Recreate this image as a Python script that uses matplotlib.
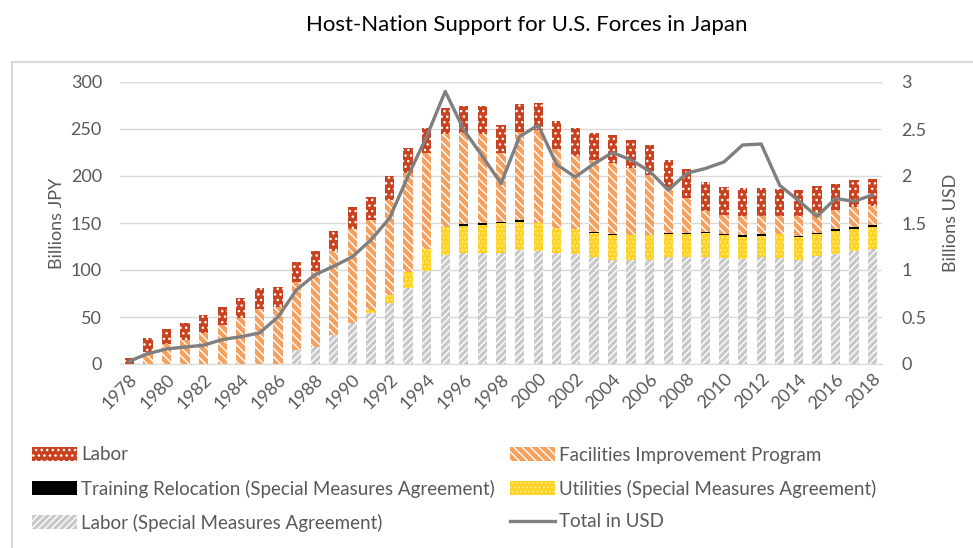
import numpy as np
import matplotlib as mpl
mpl.use("Agg")
import matplotlib.pyplot as plt
from matplotlib.patches import Patch, Rectangle
from matplotlib.lines import Line2D

plt.rcParams.update({
    "font.family": ["Lato", "DejaVu Sans"],
    "hatch.linewidth": 1.0,
})

years = list(range(1978, 2019))

# billions JPY, stacked bottom -> top
labor_sma = [0, 0, 0, 0, 0, 0, 0, 0, 0, 15, 18, 31, 44, 54, 64.5, 81, 99, 116,
             118, 118, 118.5, 121, 120, 118.5, 117.5, 114, 111, 111, 111, 113.5,
             114, 114, 112.5, 111.4, 113.5, 112.5, 110.6, 115, 117, 120.5, 122.7]
utilities = [0, 0, 0, 0, 0, 0, 0, 0, 0, 0, 0, 0, 0, 3, 9, 17, 23, 30,
             29, 30, 31, 30, 30, 26, 26, 25, 26, 26, 26, 24.5,
             24, 25, 24.5, 24, 23, 25.5, 24, 23, 25, 23.5, 23.3]
training = [0, 0, 0, 0, 0, 0, 0, 0, 0, 0, 0, 0, 0, 0, 0, 0, 0, 0,
            2, 2, 1.5, 2, 0.5, 0.5, 0.5, 1.5, 1, 0.5, 0.5, 1.5,
            1.5, 1, 1.5, 1.5, 1.5, 0.5, 1.5, 1.5, 1.5, 1.5, 1.5]
fip = [0, 13, 21, 26, 33, 41, 49, 59, 61, 72, 81, 89, 100, 96, 101, 105, 102, 99,
       97, 95, 74, 94, 98, 84, 77, 76, 76, 71, 64, 49,
       37, 23, 20, 20.5, 19, 19, 21, 22, 20, 21, 20.5]
labor = [6, 15, 16, 18, 19, 20, 21, 22, 21, 22, 21, 22, 23, 25, 25, 27, 27, 27,
         28, 29, 29, 30, 29, 30, 30, 29, 30, 30, 31, 29,
         31, 31, 30, 29.5, 30, 29, 28, 28, 28, 29, 28.5]
# billions USD
total_usd = [0.03, 0.11, 0.16, 0.18, 0.20, 0.26, 0.29, 0.33, 0.50, 0.79, 0.95, 1.04,
             1.14, 1.32, 1.55, 2.00, 2.42, 2.90, 2.49, 2.21, 1.92, 2.42, 2.54, 2.12,
             1.99, 2.13, 2.25, 2.17, 2.05, 1.85, 2.03, 2.08, 2.15, 2.33, 2.34, 1.90,
             1.74, 1.57, 1.76, 1.73, 1.80]

C_LAB, C_FIP, C_TR, C_UT, C_SMA = "#C9411E", "#F5A05E", "#000000", "#FFD21F", "#C8C8C8"
C_TXT = "#595959"
FS = 13

fig = plt.figure(figsize=(9.73, 5.48), dpi=100)
ax = fig.add_axes([120 / 973, 1 - 364 / 548, 762 / 973, 282 / 548])

# outer chart border
fig.patches.append(Rectangle((12 / 973, -0.05), 1.0, 1 - 62 / 548 + 0.05,
                             transform=fig.transFigure, fill=False,
                             ec="#D9D9D9", lw=1.5, zorder=0))

x = np.arange(len(years))
w = 0.5
series = [
    (labor_sma, C_SMA, "#FFFFFF", "/////", "Labor (Special Measures Agreement)"),
    (utilities, C_UT, "#FFE98A", "....", "Utilities (Special Measures Agreement)"),
    (training, C_TR, "#000000", None, "Training Relocation (Special Measures Agreement)"),
    (fip, C_FIP, "#FFFFFF", "\\\\\\\\", "Facilities Improvement Program"),
    (labor, C_LAB, "#FFFFFF", "...", "Labor"),
]
bottom = np.zeros(len(years))
handles = {}
for vals, fc, hc, hatch, name in series:
    vals = np.array(vals, dtype=float)
    ax.bar(x, vals, w, bottom=bottom, color=fc, edgecolor=hc, lw=0,
           hatch=hatch, zorder=2)
    bottom += vals
    handles[name] = Patch(fc=fc, ec=hc, hatch=hatch, lw=0)

ax.set_xlim(-0.5, len(years) - 0.5)
ax.set_ylim(0, 300)
ax.set_yticks(range(0, 301, 50))
ax.grid(axis="y", color="#D9D9D9", lw=1, zorder=0)
ax.set_axisbelow(True)
for s in ("top", "left", "right"):
    ax.spines[s].set_visible(False)
ax.spines["bottom"].set_color("#D9D9D9")
ax.tick_params(length=0, colors=C_TXT, labelsize=FS)
ax.set_xticks(x[::2])
ax.set_xticklabels([str(y) for y in years[::2]], rotation=45, ha="right",
                   rotation_mode="anchor")
ax.tick_params(axis="x", pad=5)
ax.tick_params(axis="y", pad=13)
ax.set_ylabel("Billions JPY", color=C_TXT, fontsize=FS, labelpad=4)

ax2 = ax.twinx()
ax2.plot(x, total_usd, color="#7F7F7F", lw=2.4, zorder=5)
ax2.set_ylim(0, 3)
ax2.set_yticks([0, 0.5, 1, 1.5, 2, 2.5, 3])
ax2.set_yticklabels(["0", "0.5", "1", "1.5", "2", "2.5", "3"])
for s in ("top", "left", "right", "bottom"):
    ax2.spines[s].set_visible(False)
ax2.tick_params(length=0, colors=C_TXT, labelsize=FS, pad=14)
ax2.set_ylabel("Billions USD", color=C_TXT, fontsize=FS, labelpad=12)

fig.text(527 / 973, 1 - 25 / 548, "Host-Nation Support for U.S. Forces in Japan",
         ha="center", va="center", fontsize=16, color="#000000")

handles["Total in USD"] = Line2D([], [], color="#7F7F7F", lw=2.4)
leg_kw = dict(frameon=False, fontsize=13.5, labelcolor=C_TXT, handlelength=2.4,
              handleheight=0.7, handletextpad=0.25, labelspacing=0.85,
              loc="upper left", borderaxespad=0)
col1 = ["Labor", "Training Relocation (Special Measures Agreement)",
        "Labor (Special Measures Agreement)"]
col2 = ["Facilities Improvement Program", "Utilities (Special Measures Agreement)",
        "Total in USD"]
fig.legend([handles[n] for n in col1], col1,
           bbox_to_anchor=(24 / 973, 1 - 439 / 548), **leg_kw)
fig.legend([handles[n] for n in col2], col2,
           bbox_to_anchor=(502 / 973, 1 - 439 / 548), **leg_kw)

fig.savefig("out.png", dpi=100)
